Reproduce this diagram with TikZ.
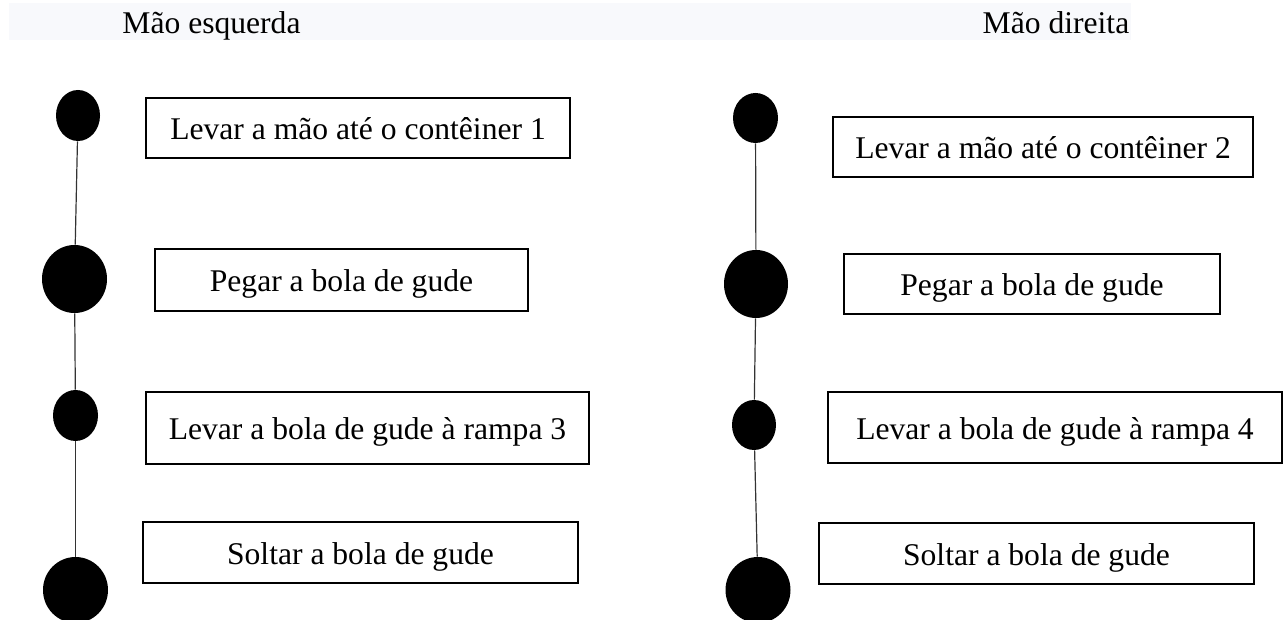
\documentclass[tikz,border=0pt]{standalone}
\usepackage{fontspec}
\setmainfont{Liberation Serif}
\usetikzlibrary{shapes.geometric}
\definecolor{faixa}{RGB}{248,249,252}
\tikzset{
  texto/.style={inner sep=0pt,font=\fontsize{15.8}{19}\selectfont,text height=11.7pt,text depth=0pt},
  passo/.style={texto,draw,line width=1.2pt},
  ponto/.style={ellipse,fill=black,inner sep=0pt},
}
\begin{document}
\begin{tikzpicture}[x=0.5pt,y=-0.5pt]
  \useasboundingbox (0,0) rectangle (1287,620);
  \fill[faixa] (9,3) rectangle (1131,40);
  \node[texto,anchor=base] (maoesq) at (211.5,34) {Mão esquerda};
  \node[texto,anchor=base] (maodir) at (1056,34) {Mão direita};
  % bolinhas de cada mão
  \foreach \nome/\x/\y/\w/\h in {ce1/78/115.5/44/51, ce2/74.5/279/65/68, ce3/75.5/415.5/45/51, ce4/75.5/590/65/66,
                                 cd1/755.5/118/45/50, cd2/756/284/64/68, cd3/754/425/44/50, cd4/758/590/65/66}
    \node[ponto,minimum width=\w*0.5pt,minimum height=\h*0.5pt] (\nome) at (\x,\y) {};
  \foreach \a/\b in {ce1/ce2,ce2/ce3,ce3/ce4,cd1/cd2,cd2/cd3,cd3/cd4}
    \draw[line width=0.6pt,black!80] (\a) -- (\b);
  % caixas
  \foreach \nome/\x/\y/\w/\h/\txt in {
      pe1/358/128/424/60/{Levar a mão até o contêiner 1},
      pe2/341.5/280/373/62/{Pegar a bola de gude},
      pe3/367.5/428/443/72/{Levar a bola de gude à rampa 3},
      pe4/360.5/552.5/435/61/{Soltar a bola de gude},
      pd1/1043/147/420/60/{Levar a mão até o contêiner 2},
      pd2/1032/284/376/60/{Pegar a bola de gude},
      pd3/1055/427.5/454/71/{Levar a bola de gude à rampa 4},
      pd4/1036.5/553.5/435/61/{Soltar a bola de gude}}
    \node[passo,minimum width=\w*0.5pt,minimum height=\h*0.5pt] (\nome) at (\x,\y) {\txt};
\end{tikzpicture}
\end{document}
